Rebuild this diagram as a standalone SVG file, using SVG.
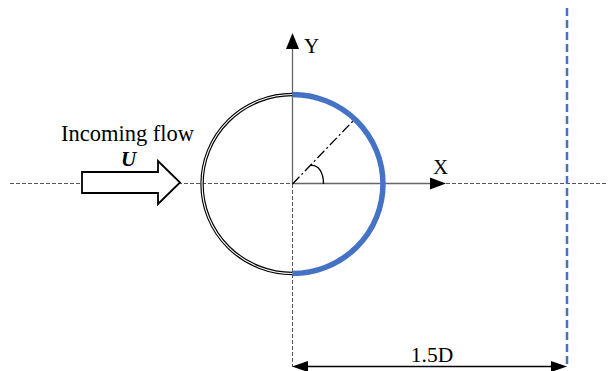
<svg xmlns="http://www.w3.org/2000/svg" width="608" height="371" viewBox="0 0 608 371">
<style>
.txt{font-family:"Liberation Serif","Times New Roman",serif;fill:#000}
.dash{stroke:#555;stroke-width:1;stroke-dasharray:4 2;fill:none}
.axis{stroke:#666;stroke-width:1.3;fill:none}
</style>
<rect width="608" height="371" fill="#fff"/>
<g id="connectors">
<line class="dash" x1="10" y1="183.5" x2="292" y2="183.5"/>
<line class="dash" x1="446" y1="183.5" x2="608" y2="183.5"/>
<line class="dash" x1="292.5" y1="184" x2="292.5" y2="367"/>
<line class="axis" x1="292.5" y1="183.5" x2="432" y2="183.5"/>
<polygon points="446,183.5 430,177.5 430,189.5" fill="#000"/>
<line class="axis" x1="292.5" y1="184" x2="292.5" y2="47"/>
<polygon points="292.5,33 286,49 299,49" fill="#000"/>
<line x1="567" y1="8" x2="567" y2="368" stroke="#4472C4" stroke-width="2.5" stroke-dasharray="8 4"/>
<line x1="300" y1="366.5" x2="560" y2="366.5" stroke="#000" stroke-width="1.5"/>
<polygon points="292,366.5 308,361 308,372" fill="#000"/>
<polygon points="567,366.5 551,361 551,372" fill="#000"/>
<line x1="292.5" y1="184" x2="353" y2="121" stroke="#000" stroke-width="1.3" stroke-dasharray="10 3 2 3"/>
<path d="M310,165.5 C318,164 323.5,172 323.5,184" fill="none" stroke="#000" stroke-width="1.3"/>
</g>
<g id="cylinder">
<path d="M292.5,94.5 A90.5,89.5 0 0 0 292.5,273.5" fill="none" stroke="#000" stroke-width="3.4"/>
<path d="M292.5,94.5 A90.5,89.5 0 0 0 292.5,273.5" fill="none" stroke="#fff" stroke-width="1.1"/>
<path d="M292.5,94.5 A90.5,89.5 0 0 1 292.5,273.5" fill="none" stroke="#4472C4" stroke-width="5.5"/>
</g>
<g id="inflow">
<polygon points="82,172 158,172 158,161 180,182.5 158,204 158,193 82,193" fill="#fff" stroke="#000" stroke-width="1.8" stroke-linejoin="miter"/>
<text class="txt" x="61" y="140.5" font-size="22.5">Incoming flow</text>
<text class="txt" x="121" y="166" font-size="21" font-weight="bold" font-style="italic">U</text>
</g>
<g id="labels">
<text class="txt" x="304" y="53" font-size="21">Y</text>
<text class="txt" x="433" y="174" font-size="21">X</text>
<text class="txt" x="432" y="362" font-size="21.5" text-anchor="middle">1.5D</text>
</g>
</svg>
